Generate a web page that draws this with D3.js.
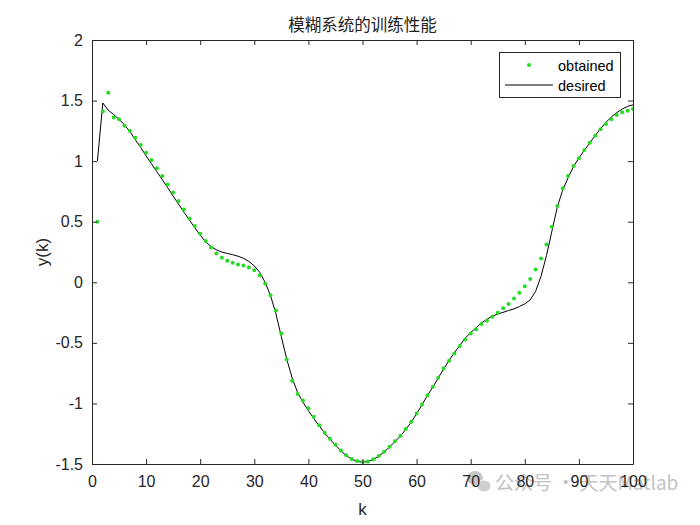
<!DOCTYPE html>
<html><head><meta charset="utf-8">
<script src="https://cdn.jsdelivr.net/npm/d3@7"></script>
<style>body{margin:0;background:#fff}svg{display:block}</style>
</head><body>
<script>
const kValues = d3.range(1, 101);
const desired = [1.00,1.48,1.42,1.385,1.345,1.30,1.245,1.177,1.113,1.043,
0.978,0.912,0.847,0.78,0.712,0.645,0.578,0.515,0.45,0.39,
0.335,0.295,0.268,0.25,0.238,0.228,0.215,0.198,0.172,0.135,
0.083,0.00,-0.11,-0.26,-0.45,-0.635,-0.79,-0.91,-0.99,-1.06,
-1.125,-1.185,-1.245,-1.295,-1.345,-1.39,-1.43,-1.46,-1.478,-1.485,
-1.48,-1.462,-1.435,-1.40,-1.36,-1.315,-1.27,-1.215,-1.155,-1.085,
-1.01,-0.935,-0.865,-0.79,-0.715,-0.645,-0.58,-0.52,-0.46,-0.415,
-0.375,-0.335,-0.305,-0.28,-0.262,-0.248,-0.233,-0.22,-0.20,-0.178,
-0.145,-0.075,0.05,0.22,0.42,0.62,0.76,0.862,0.955,1.025,
1.09,1.15,1.21,1.268,1.32,1.365,1.40,1.43,1.452,1.465];
const obtained = [0.50,1.41,1.565,1.36,1.345,1.292,1.251,1.193,1.133,1.069,
1.009,0.941,0.877,0.808,0.741,0.672,0.600,0.527,0.464,0.400,
0.340,0.288,0.238,0.202,0.177,0.161,0.147,0.139,0.122,0.100,
0.059,-0.010,-0.106,-0.232,-0.422,-0.637,-0.812,-0.922,-0.975,-1.04,
-1.11,-1.18,-1.243,-1.292,-1.342,-1.388,-1.428,-1.458,-1.476,-1.484,
-1.479,-1.46,-1.433,-1.398,-1.358,-1.312,-1.266,-1.212,-1.152,-1.083,
-1.008,-0.932,-0.862,-0.788,-0.712,-0.648,-0.588,-0.525,-0.472,-0.423,
-0.387,-0.345,-0.318,-0.285,-0.252,-0.215,-0.180,-0.133,-0.087,-0.032,
0.028,0.106,0.196,0.312,0.458,0.629,0.777,0.877,0.960,1.023,
1.092,1.152,1.210,1.263,1.306,1.345,1.381,1.403,1.416,1.430];
const xTicks = [0,10,20,30,40,50,60,70,80,90,100];
const yTicks = [-1.5,-1,-0.5,0,0.5,1,1.5,2];
const titleText = "模糊系统的训练性能";
const xLabel = "k", yLabel = "y(k)";
const legendLabels = ["obtained","desired"];
const watermark = "公众号 · 天天Matlab";

const W = 700, H = 525;
const L = 92, R = 633, T = 40, B = 464;
const axisColor = "#262626";
const font = "'Liberation Sans', Arial, sans-serif";

const svg = d3.select("body").append("svg").attr("width", W).attr("height", H);
const x = d3.scaleLinear().domain([0,100]).range([L,R]);
const y = d3.scaleLinear().domain([-1.5,2]).range([B,T]);

// watermark drawn first so the tick labels stay readable on top of it (as in the reference)
const wm = svg.append("g").attr("opacity",0.8);
wm.append("ellipse").attr("cx",475).attr("cy",478).attr("rx",8).attr("ry",7).attr("fill","#b8b8b8");
wm.append("ellipse").attr("cx",484).attr("cy",486).attr("rx",7).attr("ry",6).attr("fill","#c4c4c4").attr("stroke","#fff").attr("stroke-width",1);
wm.append("text").attr("x",495).attr("y",490).style("font-family","'Noto Sans CJK SC', sans-serif")
  .style("font-size","19px").attr("fill","#b4b4b4").text(watermark);

// data
svg.append("clipPath").attr("id","clip").append("rect")
  .attr("x",L).attr("y",T).attr("width",R-L).attr("height",B-T);
const g = svg.append("g").attr("clip-path","url(#clip)");
g.append("path").datum(kValues.map((k,i)=>[k,desired[i]]))
  .attr("fill","none").attr("stroke","#000").attr("stroke-width",1)
  .attr("d", d3.line().x(d=>x(d[0])).y(d=>y(d[1])));
g.selectAll("circle.ob").data(kValues.map((k,i)=>[k,obtained[i]])).enter()
  .append("circle").attr("class","ob")
  .attr("cx",d=>x(d[0])).attr("cy",d=>y(d[1])).attr("r",2)
  .attr("fill","#22dd22");

// axes (box with inward ticks)
const tickLen = 5;
const axB = d3.axisBottom(x).tickValues(xTicks).tickSizeInner(-tickLen).tickSizeOuter(0).tickPadding(12).tickFormat(d3.format("d"));
const axT = d3.axisTop(x).tickValues(xTicks).tickSizeInner(-tickLen).tickSizeOuter(0).tickFormat("");
const axLft = d3.axisLeft(y).tickValues(yTicks).tickSizeInner(-tickLen).tickSizeOuter(0).tickPadding(9).tickFormat(d=>String(d));
const axRgt = d3.axisRight(y).tickValues(yTicks).tickSizeInner(-tickLen).tickSizeOuter(0).tickFormat("");

function style(sel){
  sel.selectAll("path").attr("stroke",axisColor);
  sel.selectAll("line").attr("stroke",axisColor);
  sel.selectAll("text").attr("fill",axisColor).style("font-family",font).style("font-size","16px");
}
svg.append("g").attr("transform",`translate(0,${B})`).call(axB).call(style);
svg.append("g").attr("transform",`translate(0,${T})`).call(axT).call(style);
svg.append("g").attr("transform",`translate(${L},0)`).call(axLft).call(style);
svg.append("g").attr("transform",`translate(${R},0)`).call(axRgt).call(style);

// labels
svg.append("text").attr("x",(L+R)/2).attr("y",31).attr("text-anchor","middle")
  .style("font-family","'Noto Sans CJK SC', sans-serif").style("font-size","16.5px")
  .attr("fill","#222").text(titleText);
svg.append("text").attr("x",(L+R)/2).attr("y",515).attr("text-anchor","middle")
  .style("font-family",font).style("font-size","17px").attr("fill",axisColor).text(xLabel);
svg.append("text").attr("transform",`translate(48,${(T+B)/2}) rotate(-90)`).attr("text-anchor","middle")
  .style("font-family",font).style("font-size","17px").attr("fill",axisColor).text(yLabel);

// legend
const lg = svg.append("g");
lg.append("rect").attr("x",499.5).attr("y",52.5).attr("width",121).attr("height",45)
  .attr("fill","#fff").attr("stroke",axisColor).attr("stroke-width",1);
lg.append("circle").attr("cx",529).attr("cy",65).attr("r",2).attr("fill","#22dd22");
lg.append("line").attr("x1",505).attr("x2",553).attr("y1",85).attr("y2",85).attr("stroke","#000");
legendLabels.forEach((t,i)=>{
  lg.append("text").attr("x",558).attr("y",71+i*20).style("font-family",font)
    .style("font-size","14.5px").attr("fill","#000").text(t);
});
</script>
</body></html>
